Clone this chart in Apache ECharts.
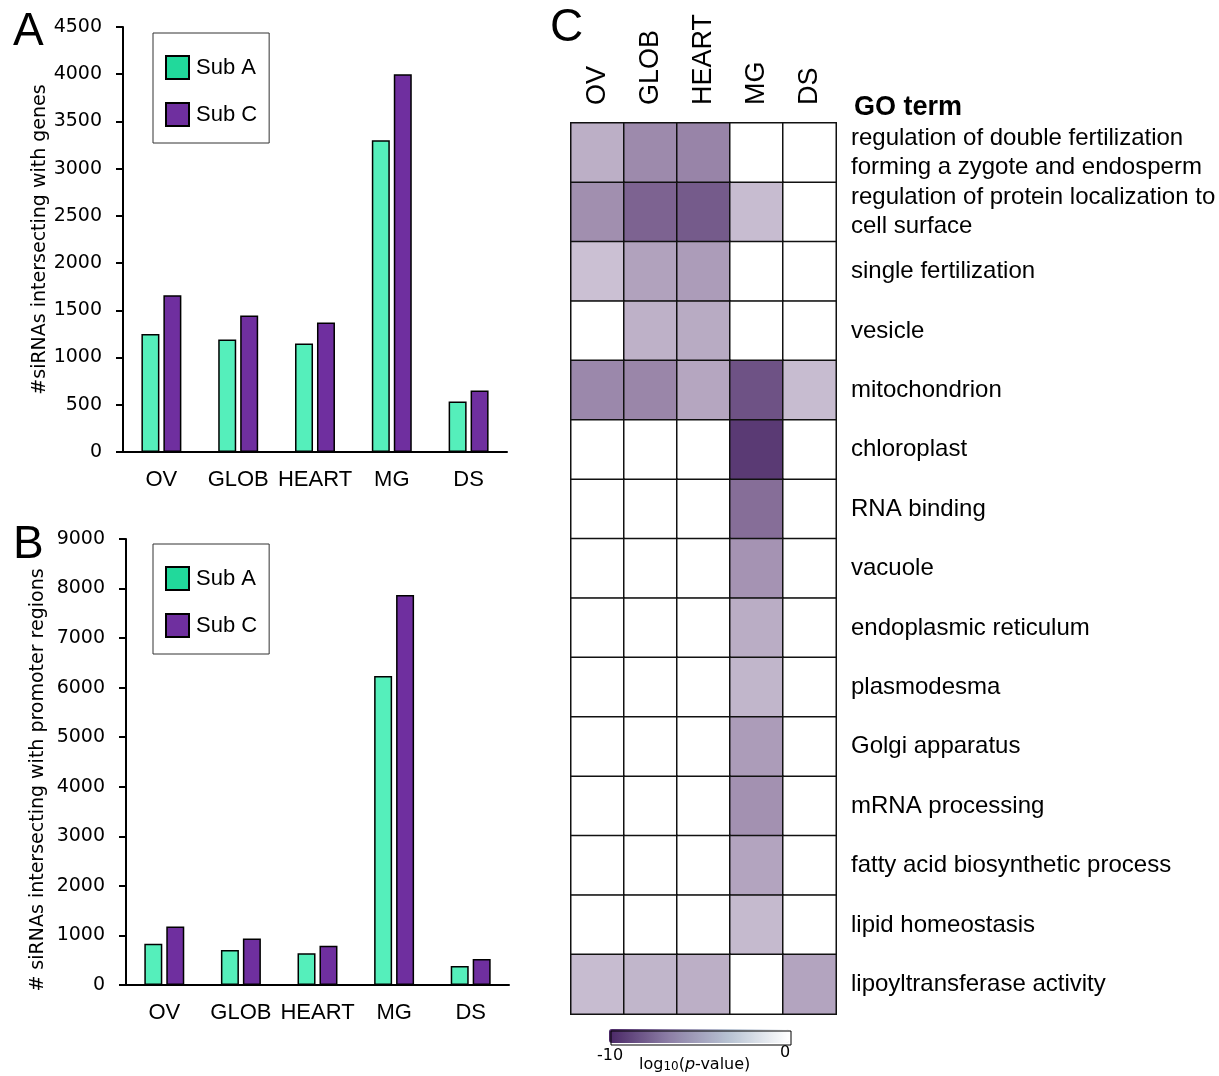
<!DOCTYPE html>
<html>
<head>
<meta charset="utf-8">
<script src="https://cdn.jsdelivr.net/npm/echarts@6/dist/echarts.min.js"></script>
<style>
  html, body { margin: 0; padding: 0; background: #fff; }
  #chart { width: 1219px; height: 1076px; }
</style>
</head>
<body>
<div id="chart"></div>
<script>
// Tissues shared by all three panels
const tissues = ['OV', 'GLOB', 'HEART', 'MG', 'DS'];

// Panel A: siRNAs intersecting with genes
const genesSubA = [1250, 1190, 1150, 3300, 535];
const genesSubC = [1660, 1445, 1370, 4000, 650];
const genesTicks = [0, 4500, 500];   // min, max, interval

// Panel B: siRNAs intersecting with promoter regions
const promSubA = [830, 705, 640, 6235, 385];
const promSubC = [1180, 940, 790, 7870, 525];
const promTicks = [0, 9000, 1000];

// Panel C: GO term enrichment, log10(p-value) per tissue (0 = not enriched)
const goTerms = [
  'regulation of double fertilization\nforming a zygote and endosperm',
  'regulation of protein localization to\ncell surface',
  'single fertilization',
  'vesicle',
  'mitochondrion',
  'chloroplast',
  'RNA binding',
  'vacuole',
  'endoplasmic reticulum',
  'plasmodesma',
  'Golgi apparatus',
  'mRNA processing',
  'fatty acid biosynthetic process',
  'lipid homeostasis',
  'lipoyltransferase activity'
];
// columns: OV, GLOB, HEART, MG, DS
const goLogP = [
  [-3.7, -5.4, -5.7,  0.0,  0.0],
  [-5.2, -7.2, -7.6, -3.1,  0.0],
  [-2.9, -4.3, -4.6,  0.0,  0.0],
  [ 0.0, -3.6, -3.9,  0.0,  0.0],
  [-5.5, -5.6, -4.1, -8.0, -3.1],
  [ 0.0,  0.0,  0.0, -9.1,  0.0],
  [ 0.0,  0.0,  0.0, -6.7,  0.0],
  [ 0.0,  0.0,  0.0, -5.0,  0.0],
  [ 0.0,  0.0,  0.0, -3.8,  0.0],
  [ 0.0,  0.0,  0.0, -3.4,  0.0],
  [ 0.0,  0.0,  0.0, -4.6,  0.0],
  [ 0.0,  0.0,  0.0, -5.1,  0.0],
  [ 0.0,  0.0,  0.0, -4.2,  0.0],
  [ 0.0,  0.0,  0.0, -3.2,  0.0],
  [-3.1, -3.4, -3.7,  0.0, -4.2]
];
const colorRange = [-10, 0];

const GREEN = '#55efbb', PURPLE = '#6f2f9f';
const GREEN_KEY = '#21d99b';
const SANS = '"Liberation Sans", Arial, sans-serif';
const VERD = '"DejaVu Sans", Verdana, sans-serif';

const heatData = [];
goLogP.forEach((row, r) => row.forEach((v, c) => heatData.push([c, r, v])));

function barGrid(left, top, width, height) {
  return { left, top, width, height, containLabel: false };
}

function catAxis(gridIndex) {
  return {
    type: 'category', gridIndex, data: tissues,
    axisLine: { lineStyle: { color: '#000', width: 2 } },
    axisTick: { show: false },
    axisLabel: { interval: 0, color: '#000', fontFamily: SANS, fontSize: 22, margin: 17 }
  };
}

function valAxis(gridIndex, ticks, name, nameGap, namePad) {
  return {
    type: 'value', gridIndex, min: ticks[0], max: ticks[1], interval: ticks[2],
    name, nameLocation: 'middle', nameGap,
    nameTextStyle: { color: '#000', fontFamily: VERD, fontSize: 19, padding: namePad },
    axisLine: { show: true, lineStyle: { color: '#000', width: 2 } },
    axisTick: { show: true, length: 7, lineStyle: { color: '#000', width: 2 } },
    axisLabel: { color: '#000', fontFamily: VERD, fontSize: 19, margin: 21, formatter: v => String(v) },
    splitLine: { show: false }
  };
}

function barSeries(name, data, color, idx) {
  return {
    type: 'bar', name, data, xAxisIndex: idx, yAxisIndex: idx,
    barWidth: 18, barGap: '22%',
    itemStyle: { color, borderColor: '#000', borderWidth: 1.5 },
    emphasis: { disabled: true }
  };
}

function barLegend(top) {
  return {
    orient: 'vertical', left: 153, top,
    padding: [22, 12, 16, 12], itemGap: 22,
    itemWidth: 23, itemHeight: 23,
    borderColor: '#333', borderWidth: 1,
    textStyle: { color: '#000', fontFamily: SANS, fontSize: 22, padding: [0, 0, 0, 2] },
    selectedMode: false, icon: 'rect',
    data: [
      { name: 'Sub A', itemStyle: { color: GREEN_KEY, borderColor: '#000', borderWidth: 2 } },
      { name: 'Sub C', itemStyle: { color: PURPLE, borderColor: '#000', borderWidth: 2 } }
    ]
  };
}

const chart = echarts.init(document.getElementById('chart'), null, { renderer: 'canvas' });

const option = {
  backgroundColor: '#fff',
  animation: false,
  title: [
    { text: 'A', left: 8, top: 4, textStyle: { fontFamily: SANS, fontSize: 46, fontWeight: 'normal', color: '#000' } },
    { text: 'B', left: 8, top: 517, textStyle: { fontFamily: SANS, fontSize: 46, fontWeight: 'normal', color: '#000' } },
    { text: 'C', left: 545, top: 0, textStyle: { fontFamily: SANS, fontSize: 46, fontWeight: 'normal', color: '#000' } },
    { text: 'GO term', left: 849, top: 89, textStyle: { fontFamily: SANS, fontSize: 27, fontWeight: 'bold', color: '#000' } }
  ],
  legend: [barLegend(33), barLegend(544)],
  grid: [
    barGrid(123, 27, 384, 425),
    barGrid(126, 539, 383, 446),
    { left: 571, top: 123, width: 265, height: 891 }
  ],
  xAxis: [
    catAxis(0),
    catAxis(1),
    {
      type: 'category', gridIndex: 2, data: tissues, position: 'top',
      axisLine: { show: false }, axisTick: { show: false }, splitLine: { show: false },
      axisLabel: { rotate: -90, interval: 0, color: '#000', fontFamily: SANS, fontSize: 27, margin: 18 }
    }
  ],
  yAxis: [
    valAxis(0, genesTicks, '#siRNAs intersecting with genes', 65, 0),
    valAxis(1, promTicks, '# siRNAs intersecting with promoter regions', 78, [0, 36, 0, 0]),
    {
      type: 'category', gridIndex: 2, data: goTerms, inverse: true, position: 'right',
      axisLine: { show: false }, axisTick: { show: false }, splitLine: { show: false },
      axisLabel: { interval: 0, color: '#000', fontFamily: SANS, fontSize: 24, lineHeight: 29, align: 'left', margin: 15 }
    }
  ],
  visualMap: [
    {
      // cell colouring
      type: 'continuous', show: false, seriesIndex: 4,
      min: colorRange[0], max: colorRange[1],
      inRange: { color: ['#4a2766', '#ffffff'] }
    },
    {
      // colour key beneath the heatmap
      type: 'continuous', show: true, seriesIndex: 5,
      min: colorRange[0], max: colorRange[1],
      orient: 'horizontal', left: 609, top: 1029,
      itemWidth: 14, itemHeight: 180,
      calculable: false, hoverLink: false, text: null, showLabel: false,
      padding: 0, borderWidth: 0,
      inRange: { color: ['#4a2766', '#8d7fa6', '#b8c3d3', '#ffffff'] }
    }
  ],
  graphic: [
    { type: 'rect', left: 608.5, top: 1028.5, shape: { width: 180, height: 14 },
      style: { fill: 'none', stroke: '#000', lineWidth: 1 }, z: 100 },
    { type: 'text', left: 597, top: 1048, style: { text: '-10', font: '16px "DejaVu Sans", Verdana, sans-serif', fill: '#000' } },
    { type: 'text', left: 780, top: 1045, style: { text: '0', font: '16px "DejaVu Sans", Verdana, sans-serif', fill: '#000' } },
    {
      type: 'text', left: 639, top: 1057,
      style: {
        text: '{a|log}{s|10}{a|(}{i|p}{a|-value)}',
        rich: {
          a: { fontFamily: VERD, fontSize: 16, fill: '#000', verticalAlign: 'bottom', lineHeight: 20 },
          s: { fontFamily: VERD, fontSize: 12, fill: '#000', verticalAlign: 'bottom', lineHeight: 20 },
          i: { fontFamily: VERD, fontSize: 16, fontStyle: 'italic', fill: '#000', verticalAlign: 'bottom', lineHeight: 20 }
        }
      }
    }
  ],
  series: [
    barSeries('Sub A', genesSubA, GREEN, 0),
    barSeries('Sub C', genesSubC, PURPLE, 0),
    barSeries('Sub A', promSubA, GREEN, 1),
    barSeries('Sub C', promSubC, PURPLE, 1),
    {
      type: 'heatmap', xAxisIndex: 2, yAxisIndex: 2, data: heatData,
      itemStyle: { borderColor: '#111', borderWidth: 1.5 },
      emphasis: { disabled: true }
    },
    {
      // holder for the colour key; carries no marks
      type: 'scatter', xAxisIndex: 2, yAxisIndex: 2, data: [], silent: true
    }
  ]
};

chart.setOption(option);
</script>
</body>
</html>
